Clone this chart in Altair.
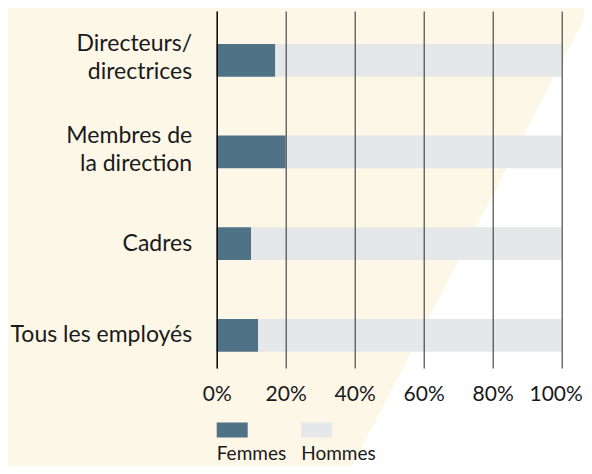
import altair as alt
import pandas as pd

# ---- data ----
categories = ["Directeurs/\ndirectrices", "Membres de\nla direction", "Cadres", "Tous les employés"]
femmes = [17, 20, 10, 12]
hommes = [83, 80, 90, 88]
series = ["Femmes", "Hommes"]
x_ticks = [0, 20, 40, 60, 80, 100]

# ---- styles ----
FONT = "Lato"
C_FEM = "#507287"
C_HOM = "#e6e7e9"
CREAM = "#fdf7e8"

rows = []
for c, f, h in zip(categories, femmes, hommes):
    rows.append({"cat": c, "sexe": "Femmes", "val": f, "ord": 0})
    rows.append({"cat": c, "sexe": "Hommes", "val": h, "ord": 1})
df = pd.DataFrame(rows)

color_scale = alt.Scale(domain=series, range=[C_FEM, C_HOM])

# decorative white wedge of the background (pixel geometry)
bg_x = [135.4, 373.1, 420.0]
bg_y = [455.0, -3.0, -3.0]
bg_y2 = [455.0, 455.0, 455.0]
bg = pd.DataFrame({"px": bg_x, "py": bg_y, "py2": bg_y2})

wedge = alt.Chart(bg).mark_area(orient="vertical", color="white", opacity=1).encode(
    x=alt.X("px:Q", scale=None, axis=None),
    y=alt.Y("py:Q", scale=None, axis=None),
    y2="py2:Q",
)

bars = alt.Chart(df).mark_bar().encode(
    y=alt.Y(
        "cat:N",
        sort=categories,
        title=None,
        scale=alt.Scale(paddingInner=0.643, paddingOuter=0.2685, align=0.669),
        axis=alt.Axis(
            labelExpr="split(datum.label, '\\n')",
            labelFont=FONT,
            labelFontSize=23,
            labelLineHeight=28,
            labelColor="#1a1a1a",
            labelPadding=25,
            labelOffset=alt.condition("indexof(datum.value, '\\n') >= 0", alt.value(-16), alt.value(0)),
            ticks=False,
            domain=True,
            domainColor="#000000",
            domainWidth=1.2,
            labelLimit=400,
            zindex=2,
        ),
    ),
    x=alt.X(
        "val:Q",
        stack="zero",
        title=None,
        scale=alt.Scale(domain=[0, 100], nice=False),
        axis=alt.Axis(
            values=x_ticks,
            labelExpr="datum.value + '%'",
            labelFont=FONT,
            labelFontSize=21,
            labelColor="#1a1a1a",
            labelPadding=15,
            labelOverlap=False,
            labelFlush=False,
            labelOffset=alt.condition("datum.value == 100", alt.value(-6), alt.value(0)),
            ticks=False,
            domain=False,
            grid=True,
            gridColor="#3a3a3a",
            gridWidth=1.1,
            zindex=1,
        ),
    ),
    color=alt.Color("sexe:N", scale=color_scale, legend=None),
    order=alt.Order("ord:Q"),
)

leg_df = pd.DataFrame({"sexe": series})
leg_x = alt.X("sexe:N", scale=alt.Scale(type="point", domain=series, range=[15.5, 100], padding=0), axis=None)

swatches = alt.Chart(leg_df).mark_point(
    shape="M-1,-0.484L1,-0.484L1,0.484L-1,0.484Z",
    filled=True,
    size=961,
    opacity=1,
).encode(
    x=leg_x,
    y=alt.value(419),
    color=alt.Color("sexe:N", scale=color_scale, legend=None),
)

leg_text = alt.Chart(leg_df).mark_text(
    align="left", baseline="alphabetic", dx=-15.5, font=FONT, fontSize=19, color="#1a1a1a"
).encode(
    x=leg_x,
    y=alt.value(449),
    text="sexe:N",
)

chart = (
    alt.layer(wedge, bars, swatches, leg_text)
    .resolve_scale(x="independent", y="independent")
    .properties(
        width=345,
        height=357,
        background=CREAM,
        padding={"left": 208.7, "top": 3, "right": 22.3, "bottom": 98},
        autosize=alt.AutoSizeParams(type="none"),
    )
    .configure_view(stroke=None)
)

chart.save("out.html", embed_options={"renderer": "svg", "actions": False})
